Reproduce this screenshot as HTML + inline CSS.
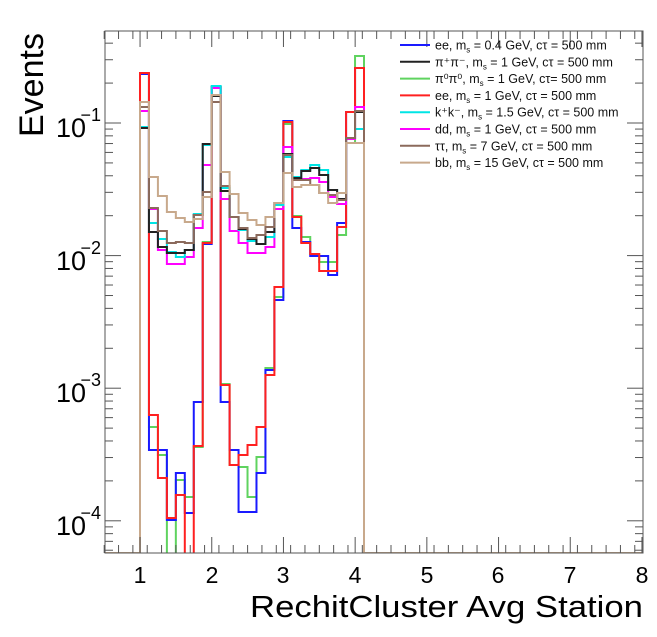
<!DOCTYPE html>
<html><head><meta charset="utf-8"><style>
body{margin:0;background:#fff;}
svg{display:block;font-family:"Liberation Sans",sans-serif;}
</style></head><body>
<svg id="s" width="657" height="637" viewBox="0 0 657 637" xmlns="http://www.w3.org/2000/svg">
<defs><clipPath id="c"><rect x="105" y="31" width="538" height="522"/></clipPath></defs>
<rect x="0" y="0" width="657" height="637" fill="#fff"/>
<g id="series" clip-path="url(#c)" fill="none" stroke-width="2"></g>
<g id="axes" stroke="#555" stroke-width="1" fill="none"></g>
<rect x="105" y="31" width="538" height="522" fill="none" stroke="#555" stroke-width="1"/>
<text transform="translate(43,137) rotate(-90)" font-size="34" fill="#000">Events</text>
<g font-size="27" fill="#000" text-anchor="end">
<text x="86" y="137">10</text><text x="101" y="121" font-size="18">−1</text>
<text x="86" y="270">10</text><text x="101" y="254" font-size="18">−2</text>
<text x="86" y="402">10</text><text x="101" y="386" font-size="18">−3</text>
<text x="86" y="535">10</text><text x="101" y="519" font-size="18">−4</text>
</g>
<g font-size="23" fill="#000" text-anchor="middle">
<text x="140" y="583">1</text><text x="212" y="583">2</text><text x="283" y="583">3</text><text x="355" y="583">4</text>
<text x="427" y="583">5</text><text x="498" y="583">6</text><text x="570" y="583">7</text><text x="642" y="583">8</text>
</g>
<text x="643" y="617" font-size="31" text-anchor="end" fill="#000" textLength="393" lengthAdjust="spacingAndGlyphs">RechitCluster Avg Station</text>
<g id="leg" font-size="12.5" fill="#111"></g>
</svg>
<script>
var ns="http://www.w3.org/2000/svg";
function el(p,t,a,txt){var e=document.createElementNS(ns,t);for(var k in a)e.setAttribute(k,a[k]);if(txt)e.textContent=txt;p.appendChild(e);return e;}
var ser=document.getElementById('series'),ax=document.getElementById('axes'),leg=document.getElementById('leg');
var B=560;
var data=[
["#5fd35f",[74,427,455,B,480,497,447,242,87,384,465,467,497,457,368,297,124,216,237,254,262,262,235,143,56]],
["#1a1aff",[74,450,450,520,473,513,402,244,87,402,450,512,512,473,370,300,121,228,242,256,256,275,223,112,68]],
["#ff2020",[73,415,478,518,495,B,446,243,87,385,465,455,445,427,375,287,122,217,243,254,271,271,227,112,68]],
["#ff00ff",[111,209,250,264,264,257,228,165,88,199,231,243,253,253,247,209,147,180,179,178,182,197,204,139,107]],
["#00e5e5",[127,223,239,252,257,250,214,145,86,188,217,230,241,244,237,205,157,177,170,165,170,190,200,138,129]],
["#222",[128,232,247,253,253,250,215,144,96,191,217,229,239,244,232,203,154,178,171,168,175,190,199,138,112]],
["#8b6a5c",[107,208,231,243,242,243,215,192,102,186,217,228,238,235,227,203,155,180,180,185,193,195,200,138,111]],
["#c8a98c",[102,177,196,212,218,222,219,197,95,172,194,213,220,225,217,203,173,187,185,185,193,203,193,143,143]]
];
function xe(k){return 140+8.96*k;}
data.forEach(function(d){
 var p="M105,553H140";
 d[1].forEach(function(v,k){p+="V"+v+"H"+xe(k+1).toFixed(2);});
 p+="V553H643";
 el(ser,'path',{d:p,stroke:d[0],'stroke-linejoin':'miter'});
});
var X0=104.2,XS=71.7;
for(var i=0;i<=75;i++){var v=0.5+i*0.1;var x=X0+(v-0.5)*XS;var maj=Math.abs(v-Math.round(v))<1e-6;
 if(i%2==1 && !maj) continue;
 var L=maj?16:8;
 el(ax,'line',{x1:x,x2:x,y1:553,y2:553-L});el(ax,'line',{x1:x,x2:x,y1:31,y2:31+L});}
function yl(l){return 123+(-1-l)*132.6;}
for(var d=-5;d<=0;d++){for(var m=1;m<10;m++){var l=d+Math.log10(m);var y=yl(l);if(y<31||y>553)continue;var L=m==1?16:8;
 el(ax,'line',{x1:105,x2:105+L,y1:y,y2:y});el(ax,'line',{x1:643,x2:643-L,y1:y,y2:y});}}
var cols=["#1a1aff","#222","#5fd35f","#ff2020","#00e5e5","#ff00ff","#8b6a5c","#c8a98c"];
var labs=["ee, m|s| = 0.4 GeV, cτ = 500 mm","π⁺π⁻, m|s| = 1 GeV, cτ = 500 mm","π⁰π⁰, m|s| = 1 GeV, cτ= 500 mm","ee, m|s| = 1 GeV, cτ = 500 mm","k⁺k⁻, m|s| = 1.5 GeV, cτ = 500 mm","dd, m|s| = 1 GeV, cτ = 500 mm","ττ, m|s| = 7 GeV, cτ = 500 mm","bb, m|s| = 15 GeV, cτ = 500 mm"];
cols.forEach(function(c,i){var y=45+i*16.8;
 el(leg,'line',{x1:400,x2:430,y1:y,y2:y,stroke:c,'stroke-width':2});
 var parts=labs[i].split('|');
 var t=el(leg,'text',{x:435,y:y+4.5});
 el(t,'tspan',{},parts[0]);el(t,'tspan',{dy:3,'font-size':8},parts[1]);el(t,'tspan',{dy:-3},parts[2]);
});
</script>
</body></html>
